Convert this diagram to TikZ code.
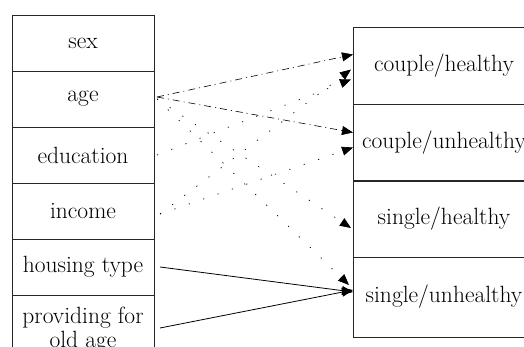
\documentclass[tikz,border=0pt]{standalone}
\usetikzlibrary{arrows.meta}
\begin{document}
\begin{tikzpicture}[x=1pt,y=-1pt,
  lbox/.style={draw=black!85,line width=0.8pt,minimum width=142pt,minimum height=56pt,inner sep=0pt,outer sep=0pt,font=\fontsize{23.5}{27}\selectfont,align=center},
  rbox/.style={draw=black!85,line width=0.8pt,minimum width=182pt,minimum height=77pt,inner sep=0pt,outer sep=0pt,font=\fontsize{23.5}{27}\selectfont},
  tip/.style={-{Triangle[length=11pt,width=9pt]}},
  dashdot/.style={tip,line width=0.6pt,dash pattern=on 7pt off 4pt on 1pt off 4pt},
  sparse/.style={tip,line width=0.7pt,dash pattern=on 1.2pt off 14pt},
  plain/.style={tip,line width=0.8pt}]
\useasboundingbox (0,0) rectangle (524,347);
\begin{scope}
\clip (0,0) rectangle (524,347);
\node[lbox] (sex) at (83,43) {sex};
\node[lbox] (age) at (83,99) {age};
\node[lbox] (edu) at (83,155) {education};
\node[lbox] (inc) at (83,211) {income};
\node[lbox] (hou) at (83,267) {housing type};
\node[lbox,minimum height=70pt,anchor=north] (pro) at (83,295) {providing for\\[-3pt]old age};
\node[rbox] (ch) at (444,65.5) {couple/healthy};
\node[rbox] (cu) at (444,142.5) {couple/unhealthy};
\node[rbox] (sh) at (444,219) {single/healthy};
\node[rbox,minimum height=80pt] (su) at (444,297) {single/unhealthy};
\draw[dashdot] ([xshift=3pt,yshift=2pt]age.east) -- ([yshift=11pt]ch.west);
\draw[dashdot] ([xshift=3pt,yshift=2pt]age.east) -- ([yshift=10pt]cu.west);
\draw[sparse] ([xshift=3pt]edu.east) -- ([xshift=-2pt,yshift=-14pt]ch.west);
\draw[sparse] ([xshift=6pt,yshift=-3pt]inc.east) -- ([xshift=-2pt,yshift=-4pt]ch.west);
\draw[sparse] ([xshift=6pt,yshift=-3pt]inc.east) -- ([yshift=-5pt]cu.west);
\draw[sparse] ([xshift=3pt]age.east) -- ([xshift=-2pt,yshift=-9pt]sh.west);
\draw[sparse] ([xshift=3pt]age.east) -- ([xshift=-4pt,yshift=12pt]su.west);
\draw[plain] ([xshift=6pt]hou.east) -- ([yshift=5pt]su.west);
\draw[plain] ([xshift=6pt,yshift=2pt]pro.east) -- ([yshift=7pt]su.west);
\end{scope}
\end{tikzpicture}
\end{document}
